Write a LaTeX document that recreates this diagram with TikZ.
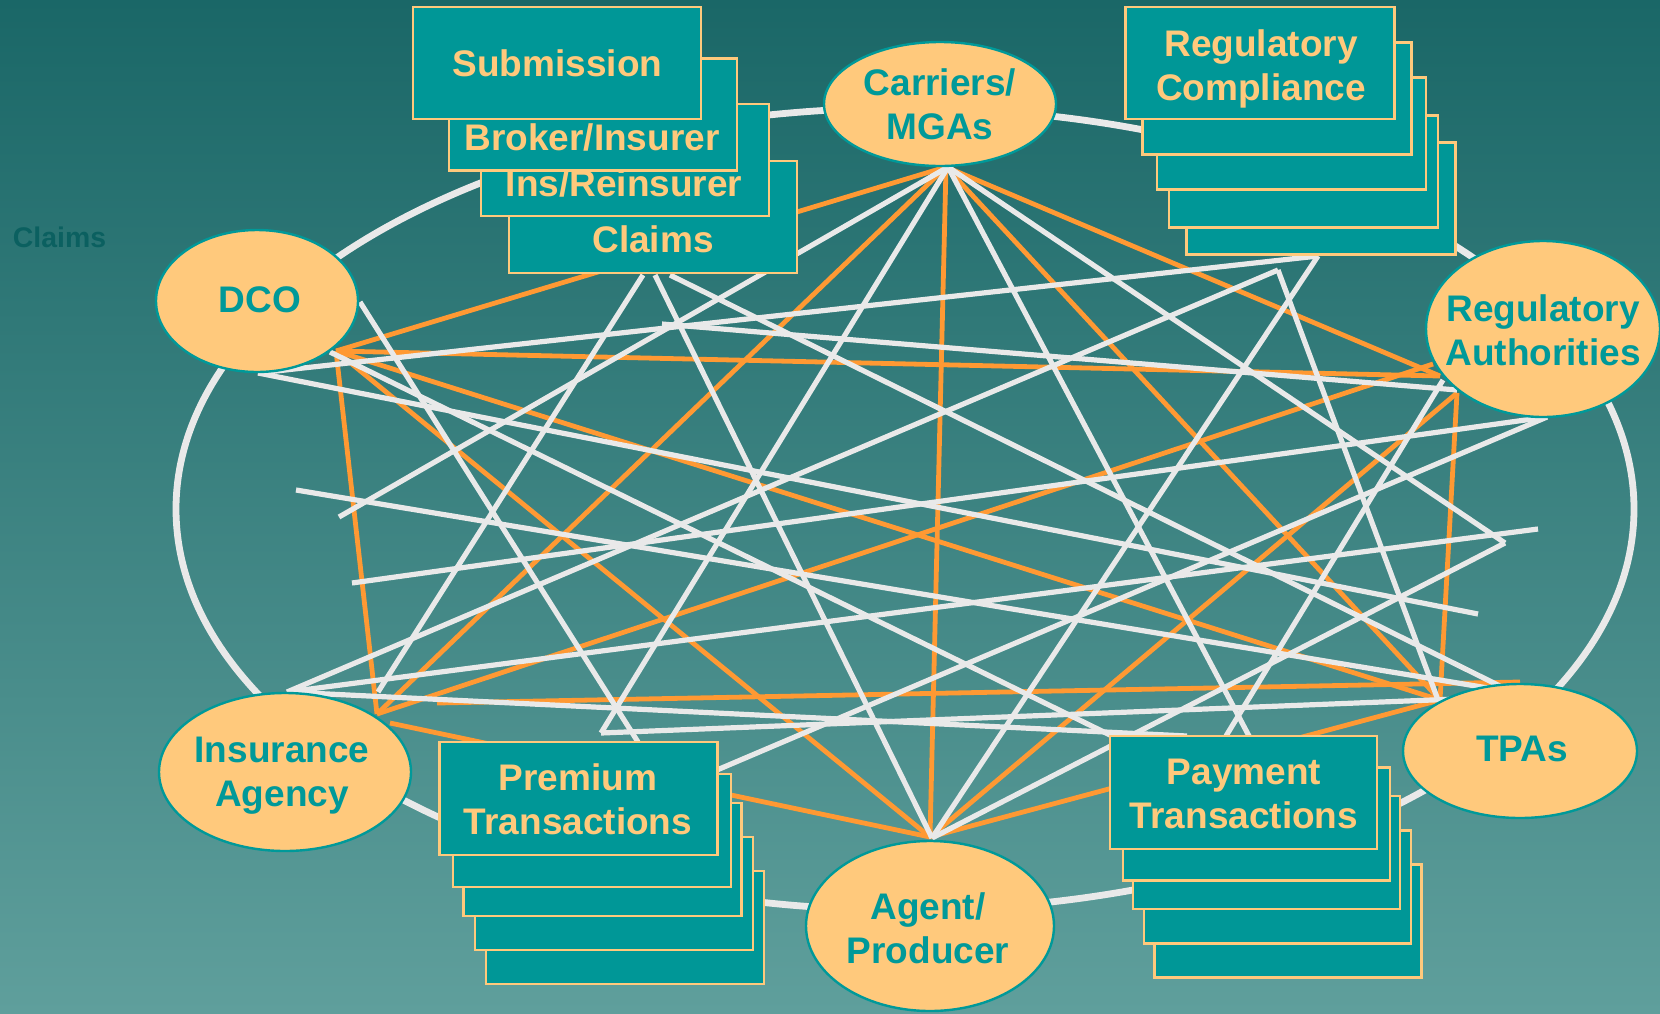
\documentclass[tikz,border=0pt]{standalone}
\usepackage{fontspec}
\setmainfont{Liberation Sans}
\usetikzlibrary{shapes.geometric}
\definecolor{bgtop}{HTML}{1A6767}
\definecolor{bgbot}{HTML}{5F9F9C}
\definecolor{peach}{HTML}{FFC97C}
\definecolor{tealbox}{HTML}{009797}
\definecolor{tealtxt}{HTML}{009999}
\definecolor{wcol}{HTML}{E9E9E9}
\definecolor{ocol}{HTML}{FF9933}
\definecolor{darklbl}{HTML}{0B6060}
\begin{document}
\begin{tikzpicture}[x=0.5pt,y=-0.5pt,
  every node/.style={inner sep=0pt,outer sep=0pt},
  ent/.style={ellipse,draw=tealtxt,line width=1.2pt,fill=peach},
  enttxt/.style={font=\bfseries\fontsize{18.5}{22}\selectfont,text=tealtxt,align=center},
  card/.style={rectangle,draw=peach,line width=1.2pt,fill=tealbox},
  cardtxt/.style={font=\bfseries\fontsize{18.5}{22}\selectfont,text=peach,align=center},
  wl/.style={draw=wcol,line width=2.6pt},
  ol/.style={draw=ocol,line width=2.4pt},
  subcard/.style={card,minimum width=144pt,minimum height=56pt},
  rccard/.style={card,minimum width=134.5pt,minimum height=56pt},
  prcard/.style={card,minimum width=139pt,minimum height=56.5pt},
  pacard/.style={card,minimum width=133.5pt,minimum height=56.5pt}]

% background
\shade[top color=bgtop,bottom color=bgbot] (0,0) rectangle (1660,1013);
\useasboundingbox (0,0) rectangle (1660,1013);

% big ring
\draw[wcol,line width=3.4pt] (905,509) ellipse [x radius=364.5pt, y radius=200.5pt];

% orange end points
\coordinate (oc) at (946,167);
\coordinate (od) at (336,351);
\coordinate (oi) at (377,714);
\coordinate (oi2) at (390,723);
\coordinate (oi3) at (437,703);
\coordinate (oa) at (930,837);
\coordinate (ot) at (1440,700);
\coordinate (ot2) at (1520,682);
\coordinate (or1) at (1440,376);
\coordinate (or2) at (1433,364);
\coordinate (or3) at (1457,393);

% white end points
\coordinate (wc) at (948,167);
\coordinate (wcl1) at (643,275);
\coordinate (wcl2) at (655,275);
\coordinate (wcl3) at (670,275);
\coordinate (wrc) at (1318,256);
\coordinate (wrc2) at (1278,270);
\coordinate (wdr) at (360,302);
\coordinate (wdb) at (258,373);
\coordinate (wdv) at (330,352);
\coordinate (wia) at (287,692);
\coordinate (wia2) at (378,692);
\coordinate (wv) at (601,733);
\coordinate (wag) at (932,838);
\coordinate (wtp1) at (1457,699);
\coordinate (wtp2) at (1512,692);
\coordinate (wtp3) at (1438,700);
\coordinate (wra1) at (1547,417);
\coordinate (wra2) at (1443,380);
\coordinate (wra3) at (1457,390);
\coordinate (wpr1) at (638,742);
\coordinate (wpr2) at (717,770);
\coordinate (wpa1) at (1249,736);
\coordinate (wpa2) at (1112,736);
\coordinate (wpa3) at (1187,736);
\coordinate (wpa4) at (1226,736);
\coordinate (f1) at (296,490);
\coordinate (f2) at (339,517);
\coordinate (f3) at (352,583);
\coordinate (f4) at (1538,529);
\coordinate (f5) at (1478,614);
\coordinate (f6) at (1505,543);
\coordinate (f7) at (662,324);

% orange connectors
\draw[ol] (oc) -- (od);
\draw[ol] (oc) -- (oi);
\draw[ol] (oc) -- (oa);
\draw[ol] (oc) -- (ot);
\draw[ol] (oc) -- (or1);
\draw[ol] (od) -- (oi);
\draw[ol] (od) -- (oa);
\draw[ol] (od) -- (ot);
\draw[ol] (od) -- (or1);
\draw[ol] (oi) -- (or2);
\draw[ol] (oi2) -- (oa);
\draw[ol] (oi3) -- (ot2);
\draw[ol] (oa) -- (ot);
\draw[ol] (oa) -- (or3);
\draw[ol] (ot) -- (or3);

% white connectors
\draw[wl] (wdr) -- (wpr1);
\draw[wl] (wcl1) -- (wia2);
\draw[wl] (wcl2) -- (wag);
\draw[wl] (wcl3) -- (wtp2);
\draw[wl] (wc) -- (f2);
\draw[wl] (wc) -- (wv);
\draw[wl] (wc) -- (wpa1);
\draw[wl] (wc) -- (f6);
\draw[wl] (wrc) -- (wag);
\draw[wl] (wrc2) -- (wia);
\draw[wl] (wrc2) -- (wtp3);
\draw[wl] (wag) -- (f6);
\draw[wl] (wdb) -- (f5);
\draw[wl] (wia) -- (f4);
\draw[wl] (wdb) -- (wrc);
\draw[wl] (wdv) -- (wpa2);
\draw[wl] (f3) -- (wra1);
\draw[wl] (wia) -- (wpa3);
\draw[wl] (wv) -- (wtp1);
\draw[wl] (f7) -- (wra3);
\draw[wl] (wpr2) -- (wra1);
\draw[wl] (wra2) -- (wpa4);
\draw[wl] (f1) -- (wtp2);

% Submission stack
\node[subcard] (clm) at (653,217) {};
\node[cardtxt] (clmt) at (653,239.5) {Claims};
\node[subcard] (ins) at (625,160) {};
\node[cardtxt] (inst) at (624,183.5) {Ins/Reinsurer};
\node[subcard] (bro) at (593,114.5) {};
\node[cardtxt] (brot) at (592,137.5) {Broker/Insurer};
\node[subcard] (sub) at (557,63) {};
\node[cardtxt] (subt) at (557.5,63.5) {Submission};

% Regulatory compliance stack
\node[rccard] (rc5) at (1321,198.5) {};
\node[rccard] (rc4) at (1303.5,171.5) {};
\node[rccard] (rc3) at (1291.5,133.5) {};
\node[rccard] (rc2) at (1277,98.5) {};
\node[rccard] (rc1) at (1260,63) {};
\node[cardtxt] (rct) at (1261,69) {Regulatory\\Compliance};

% Premium stack
\node[prcard] (pr5) at (625,927.5) {};
\node[prcard] (pr4) at (614,893.5) {};
\node[prcard] (pr3) at (602.5,859.5) {};
\node[prcard] (pr2) at (592,830.5) {};
\node[prcard] (pr1) at (578.5,798.5) {};
\node[cardtxt] (prt) at (578,799) {Premium\\Transactions};

% Payment stack
\node[pacard] (pa5) at (1288,921) {};
\node[pacard] (pa4) at (1277.5,887) {};
\node[pacard] (pa3) at (1266.5,852.5) {};
\node[pacard] (pa2) at (1256.5,824) {};
\node[pacard] (pa1) at (1243.5,792.5) {};
\node[cardtxt] (pat) at (1244,793.5) {Payment\\Transactions};

% entities
\node[ent,minimum width=116pt,minimum height=62pt] (car) at (940,104) {};
\node[enttxt] (cart) at (940,104) {Carriers/\\MGAs};
\node[ent,minimum width=101pt,minimum height=71pt] (dco) at (257,301) {};
\node[enttxt] (dcot) at (260,300) {DCO};
\node[ent,minimum width=117pt,minimum height=88pt] (ra) at (1543,329) {};
\node[enttxt] (rat) at (1543,330) {Regulatory\\Authorities};
\node[ent,minimum width=126pt,minimum height=79pt] (ia) at (285,772) {};
\node[enttxt] (iat) at (282,776) {Insurance\\Agency};
\node[ent,minimum width=117pt,minimum height=67pt] (tpa) at (1520,751) {};
\node[enttxt] (tpat) at (1522,748.5) {TPAs};
\node[ent,minimum width=124pt,minimum height=85pt] (ag) at (930,926) {};
\node[enttxt] (agt) at (928,928) {Agent/\\Producer};

% side label
\node[font=\bfseries\fontsize{14.2}{17}\selectfont,text=darklbl] (side) at (59.5,237.5) {Claims};
\end{tikzpicture}
\end{document}
